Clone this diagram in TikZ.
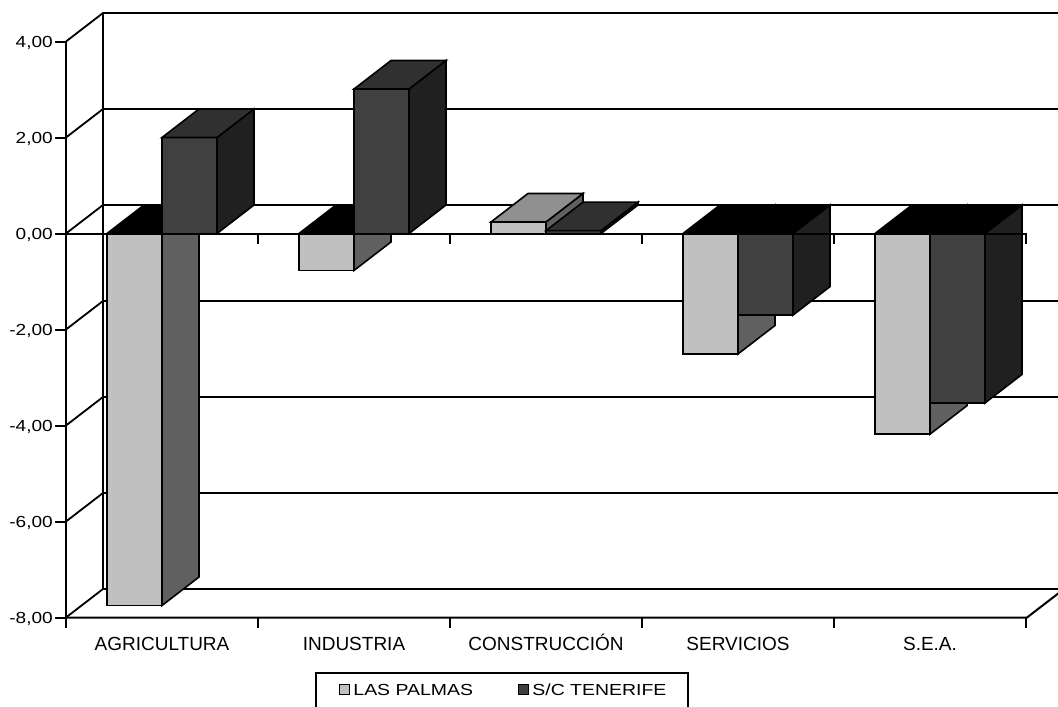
\documentclass[tikz,border=0pt]{standalone}
\usepackage{fontspec}
\setmainfont{Liberation Sans}
\usetikzlibrary{positioning}

\definecolor{lpfront}{HTML}{C0C0C0}
\definecolor{lpside}{HTML}{606060}
\definecolor{lptop}{HTML}{909090}
\definecolor{tffront}{HTML}{404040}
\definecolor{tfside}{HTML}{202020}
\definecolor{tftop}{HTML}{303030}

% column: left x, value, front, side, top colour
\newcommand{\drawcolumn}[5]{%
  \pgfmathsetmacro{\capv}{max(#2,0)}%
  \filldraw[facet, fill=#3] (#1,0) rectangle ++(55,#2);
  \filldraw[facet, fill=#4] (#1+55,0) -- ++(37pt,28.5pt) -- ++(0,#2) -- ++(-37pt,-28.5pt) -- cycle;
  \filldraw[facet, fill=#5] (#1,\capv) -- ++(37pt,28.5pt) -- ++(55,0) -- ++(-37pt,-28.5pt) -- cycle;
}

\begin{document}
\begin{tikzpicture}[
    x=1pt, y=48pt,
    facet/.style={draw=black, line width=1.6pt},
    grid/.style={line width=1.8pt},
    axis/.style={line width=2pt},
    ylab/.style={anchor=base east, inner sep=0pt, font=\fontsize{16}{19}\selectfont, xscale=1.19, transform shape},
    catlab/.style={anchor=base, inner sep=0pt, font=\fontsize{19}{22}\selectfont},
    swatch/.style={draw, line width=1.4pt, minimum size=10pt, inner sep=0pt},
    legtext/.style={inner sep=0pt, font=\fontsize{16}{19}\selectfont, xscale=1.215, transform shape}
]
\useasboundingbox (0,4.8646) rectangle (1058,-9.8438);
\clip (0,4.8646) rectangle (1058,-9.8438);

% Walls
\foreach \v in {-8,-6,...,4}
  \draw[grid] (66,\v) -- ++(37pt,28.5pt) -- ++(1000,0);
\draw[grid] (66,-8) ++(37pt,28.5pt) -- ++(0,12);

% Value axis
\draw[axis] (66,4) -- (66,-8) -- ++(0,-10pt);
\foreach \v/\t [count=\i] in {4/{4,00}, 2/{2,00}, 0/{0,00}, -2/{-2,00}, -4/{-4,00}, -6/{-6,00}, -8/{-8,00}} {
  \draw[axis] (66,\v) -- ++(-11pt,0);
  \node[ylab] (ytick\i) at (53,\v-0.115) {\t};
}

% Columns
\foreach \xl/\lpv/\lpc/\tfv/\tfc in {107/-7.75/black/2.00/tftop, 299/-0.77/black/3.01/tftop,
    491/0.24/lptop/0.06/tftop, 683/-2.51/black/-1.70/black, 875/-4.18/black/-3.53/black} {
  \drawcolumn{\xl}{\lpv}{lpfront}{lpside}{\lpc}
  \drawcolumn{\xl+55}{\tfv}{tffront}{tfside}{\tfc}
}

% Category axis
\draw[axis] (66,0) -- (1027,0);
\draw[axis] (66,-8) -- (1027,-8) -- ++(37pt,28.5pt);
\foreach \i in {1,...,5} {
  \draw[axis] (66+192*\i,0) -- ++(0,-10pt);
  \draw[axis] (66+192*\i,-8) -- ++(0,-10pt);
}
\foreach \t [count=\i] in {AGRICULTURA, INDUSTRIA, CONSTRUCCIÓN, SERVICIOS, S.E.A.}
  \node[catlab] (cat\i) at (162+192*\i-192,-8.692) {\t};

% Legend
\draw[axis] (316,-9.95) rectangle (688,-9.156);
\node[swatch, fill=lpfront] (sw1) at (344.5,-9.5) {};
\node[legtext, right=3pt of sw1] (lp) {LAS PALMAS};
\node[swatch, fill=tffront] (sw2) at (523.5,-9.5) {};
\node[legtext, right=3pt of sw2] (tf) {S/C TENERIFE};

\end{tikzpicture}
\end{document}
